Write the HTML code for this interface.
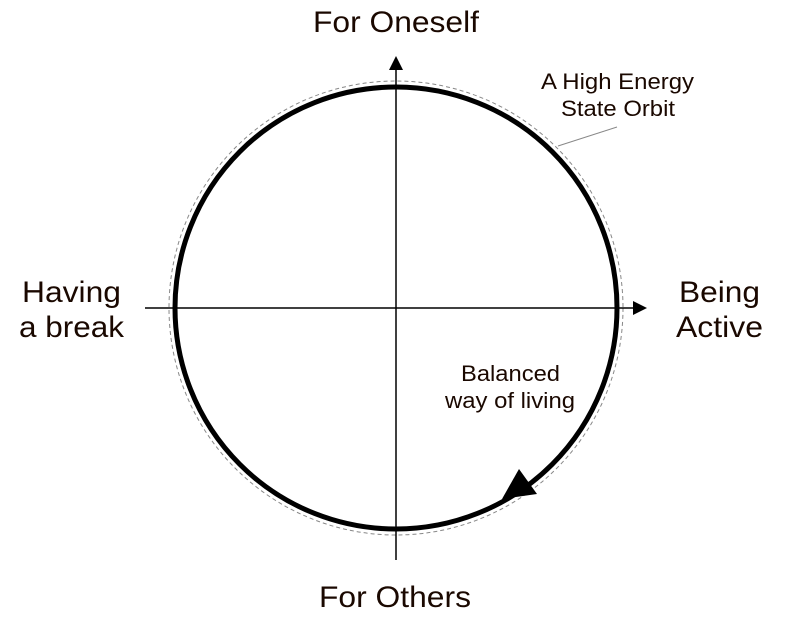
<!DOCTYPE html>
<html><head><style>
html,body{margin:0;padding:0;background:#fff;}
svg{display:block;}
text{font-family:"Liberation Sans",sans-serif;fill:#1a0800;}
</style></head><body>
<svg width="792" height="620" viewBox="0 0 792 620" xmlns="http://www.w3.org/2000/svg">
<rect width="792" height="620" fill="#fff"/>
<circle cx="396" cy="308" r="227" fill="none" stroke="#888" stroke-width="1" stroke-dasharray="4,3"/>
<line x1="145" y1="308" x2="634" y2="308" stroke="#000" stroke-width="1.5"/>
<polygon points="647,308 633,301 633,315" fill="#000"/>
<line x1="396" y1="560" x2="396" y2="69" stroke="#000" stroke-width="1.5"/>
<polygon points="396,56 389,70 403,70" fill="#000"/>
<circle cx="396" cy="308" r="221" fill="none" stroke="#000" stroke-width="5"/>
<polygon points="502,499 519,469 537,494" fill="#000"/>
<line x1="558" y1="146" x2="617" y2="127" stroke="#888" stroke-width="1"/>
<text x="313" y="32" font-size="30" textLength="166" lengthAdjust="spacingAndGlyphs">For Oneself</text>
<text x="319" y="607" font-size="30" textLength="152" lengthAdjust="spacingAndGlyphs">For Others</text>
<text x="22" y="302" font-size="30" textLength="99" lengthAdjust="spacingAndGlyphs">Having</text>
<text x="19" y="337" font-size="30" textLength="105" lengthAdjust="spacingAndGlyphs">a break</text>
<text x="679" y="302" font-size="30" textLength="81" lengthAdjust="spacingAndGlyphs">Being</text>
<text x="676" y="337" font-size="30" textLength="87" lengthAdjust="spacingAndGlyphs">Active</text>
<text x="541" y="89" font-size="22" textLength="153" lengthAdjust="spacingAndGlyphs">A High Energy</text>
<text x="561" y="116" font-size="22" textLength="114" lengthAdjust="spacingAndGlyphs">State Orbit</text>
<text x="461" y="381" font-size="22" textLength="99" lengthAdjust="spacingAndGlyphs">Balanced</text>
<text x="445" y="408" font-size="22" textLength="130" lengthAdjust="spacingAndGlyphs">way of living</text>
</svg>
</body></html>
